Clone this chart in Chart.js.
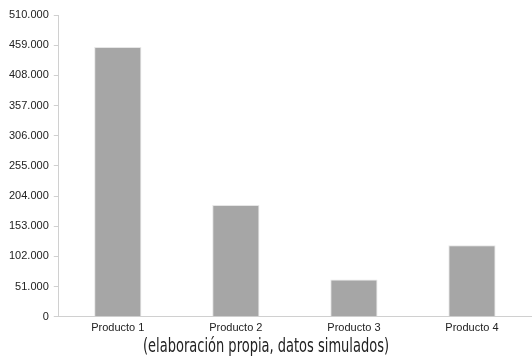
<!DOCTYPE html>
<html><head><meta charset="utf-8">
<script src="https://cdn.jsdelivr.net/npm/chart.js@4"></script>
<style>html,body{margin:0;padding:0;background:#fff}#w{width:532px;height:359px}</style>
</head><body><div id="w"><canvas id="c"></canvas></div>
<script>
const categories = ["Producto 1", "Producto 2", "Producto 3", "Producto 4"];
const ventas = [456000, 189000, 63000, 121000];
const yMax = 510000;
const yStep = 51000;
const caption = "(elaboración propia, datos simulados)";

function fmt(v){
  return String(v).replace(/\B(?=(\d{3})+(?!\d))/g, ".");
}

const captionPlugin = {
  id: 'caption',
  afterDraw(chart) {
    const ctx = chart.ctx;
    ctx.save();
    ctx.font = '18px "Liberation Sans Narrow", "DejaVu Sans Condensed", sans-serif';
    const w = ctx.measureText(caption).width;
    const target = 246;
    const sx = target / w;
    ctx.translate(chart.width / 2, 347);
    ctx.scale(sx, 1.08);
    ctx.fillStyle = '#222';
    ctx.textAlign = 'center';
    ctx.textBaseline = 'middle';
    ctx.fillText(caption, 0, 0);
    ctx.restore();
  }
};

new Chart(document.getElementById('c'), {
  type: 'bar',
  data: {
    labels: categories,
    datasets: [{
      data: ventas,
      backgroundColor: '#a6a6a6',
      borderColor: '#e6e6e6',
      borderWidth: 1,
      barPercentage: 0.4,
      categoryPercentage: 1.0
    }]
  },
  plugins: [captionPlugin],
  options: {
    responsive: true,
    maintainAspectRatio: false,
    animation: false,
    layout: { padding: { top: 15, right: 1, left: 4, bottom: 19 } },
    plugins: { legend: { display: false }, tooltip: { enabled: false } },
    scales: {
      x: {
        grid: { display: false, drawTicks: false },
        border: { display: true, color: '#d0d0d0', width: 1 },
        ticks: { color: '#222', font: { family: 'Liberation Sans', size: 11 }, padding: 5 }
      },
      y: {
        min: 0, max: yMax,
        grid: { drawOnChartArea: false, drawTicks: true, tickLength: 5, color: '#d0d0d0' },
        border: { display: true, color: '#d0d0d0', width: 1 },
        ticks: { stepSize: yStep, color: '#222', font: { family: 'Liberation Sans', size: 11 }, padding: 5, callback: v => fmt(v) }
      }
    }
  }
});
</script>
</body></html>
